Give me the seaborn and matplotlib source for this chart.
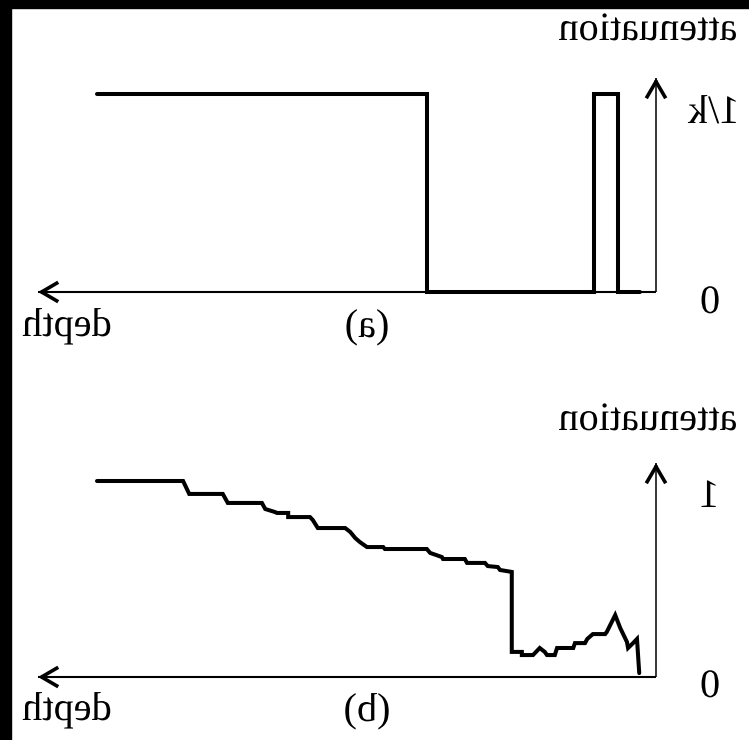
import matplotlib
matplotlib.use("Agg")
import matplotlib.pyplot as plt
import numpy as np
import pandas as pd
import seaborn as sns
from matplotlib.patches import Rectangle
from matplotlib.patheffects import AbstractPathEffect
from matplotlib.transforms import Affine2D

# ---- data -------------------------------------------------------------
# (a) ideal attenuation profile (value 1 == 1/k)
depth_a = [100.0, 41.0, 41.0, 11.1, 11.1, 6.8, 6.8, 2.9]
atten_a = [1.0, 1.0, 0.0, 0.0, 1.0, 1.0, 0.0, 0.0]

# (b) estimated attenuation profile
depth_b = [100.0, 84.6, 83.5, 77.5, 76.6, 70.5, 69.9, 68.2, 67.8, 65.8,
           65.8, 61.9, 61.4, 60.5, 55.6, 54.7, 53.8, 53.0, 51.7, 48.8,
           48.5, 41.0, 40.4, 38.3, 38.1, 34.2, 33.8, 30.6, 30.1, 28.3,
           27.9, 25.8, 25.8, 24.0, 24.0, 22.0, 20.8, 19.9, 19.5, 18.1,
           17.7, 14.8, 14.5, 12.7, 12.3, 11.3, 9.1, 8.8, 7.3, 6.4,
           5.2, 5.0, 4.1, 3.4, 3.0]
atten_b = [1.000, 1.000, 0.934, 0.934, 0.888, 0.888, 0.857, 0.842, 0.837, 0.837,
           0.816, 0.816, 0.801, 0.760, 0.760, 0.740, 0.709, 0.689, 0.663, 0.663,
           0.653, 0.653, 0.633, 0.612, 0.602, 0.602, 0.582, 0.582, 0.566, 0.561,
           0.546, 0.536, 0.128, 0.128, 0.112, 0.112, 0.148, 0.128, 0.112, 0.112,
           0.148, 0.148, 0.173, 0.173, 0.194, 0.219, 0.219, 0.230, 0.316, 0.250,
           0.179, 0.148, 0.173, 0.194, 0.020]

y_label_a = "1/k"
y_label_b = "1"
zero_label = "0"
x_label = "depth"
y_title = "attenuation"
panel_tags = ["(a)", "(b)"]

# ---- style ------------------------------------------------------------
sns.set_theme(style="white")
plt.rcParams["font.family"] = ["Liberation Serif", "DejaVu Serif"]

W, H = 749, 740
fig = plt.figure(figsize=(W / 100, H / 100), dpi=100)
fig.patch.set_facecolor("white")


class Mirror(AbstractPathEffect):
    """Draw text glyphs reflected left-right about their own centre."""

    def draw_path(self, renderer, gc, tpath, affine, rgbFace=None):
        ext = tpath.get_extents(affine)
        cx = 0.5 * (ext.x0 + ext.x1)
        flip = affine + Affine2D().translate(-cx, 0).scale(-1, 1).translate(cx, 0)
        renderer.draw_path(gc, tpath, flip, rgbFace)


def fx(px):
    return px / W


def fy(py):
    return 1 - py / H


def label(x, y, s, size=29):
    fig.text(fx(x), fy(y), s, ha="center", va="baseline", fontsize=size,
             color="black", path_effects=[Mirror()])


# black frame strips along the top and left edge
fig.add_artist(Rectangle((0, fy(8)), 1, 8 / H, transform=fig.transFigure,
                         color="black", zorder=0))
fig.add_artist(Rectangle((0, 0), fx(11), 1, transform=fig.transFigure,
                         color="black", zorder=0))

PX_PER_DEPTH = 5.59
X0, XTIP = 656, 38
DEPTH_MAX = (X0 - XTIP) / PX_PER_DEPTH


def make_axes(y_zero, y_one, y_tip):
    top_val = (y_zero - y_tip) / (y_zero - y_one)
    ax = fig.add_axes([fx(XTIP), fy(y_zero), (X0 - XTIP) / W, (y_zero - y_tip) / H])
    ax.set_xlim(DEPTH_MAX, 0)
    ax.set_ylim(0, top_val)
    ax.set_axis_off()
    # axis shafts
    ax.plot([0, DEPTH_MAX], [0, 0], color="black", lw=1.5, clip_on=False,
            solid_capstyle="butt")
    ax.plot([0, 0], [0, top_val], color="black", lw=1.1, clip_on=False,
            solid_capstyle="butt")
    # arrow heads
    head = dict(arrowstyle="->,head_length=0.6,head_width=0.35",
                mutation_scale=20, lw=2.6, color="black",
                shrinkA=0, shrinkB=0, joinstyle="miter", capstyle="butt")
    ax.annotate("", xy=(DEPTH_MAX, 0), xytext=(DEPTH_MAX - 1.0, 0),
                arrowprops=head, annotation_clip=False)
    ax.annotate("", xy=(0, top_val), xytext=(0, top_val - 0.02),
                arrowprops=head, annotation_clip=False)
    return ax


line_kw = dict(color="black", linewidth=2.9, sort=False, estimator=None,
               legend=False)

# ---- panel (a) --------------------------------------------------------
ax_a = make_axes(292, 94, 78)
df_a = pd.DataFrame({"depth": depth_a, "attenuation": atten_a})
sns.lineplot(data=df_a, x="depth", y="attenuation", ax=ax_a, **line_kw)
for ln in ax_a.lines:
    ln.set_clip_on(False)
    ln.set_solid_joinstyle("miter")
ax_a.set_axis_off()

label(647, 40, y_title)
label(710, 123, y_label_a)
label(710, 313, zero_label)
label(66, 336, x_label)
label(367, 337, panel_tags[0])

# ---- panel (b) --------------------------------------------------------
ax_b = make_axes(677, 481, 463)
df_b = pd.DataFrame({"depth": depth_b, "attenuation": atten_b})
sns.lineplot(data=df_b, x="depth", y="attenuation", ax=ax_b, **line_kw)
for ln in ax_b.lines:
    ln.set_clip_on(False)
    ln.set_solid_joinstyle("miter")
ax_b.set_axis_off()

label(647, 430, y_title)
label(708, 507, y_label_b)
label(710, 697, zero_label)
label(66, 720, x_label)
label(367, 721, panel_tags[1])

fig.savefig("out.png", dpi=100, facecolor="white")
